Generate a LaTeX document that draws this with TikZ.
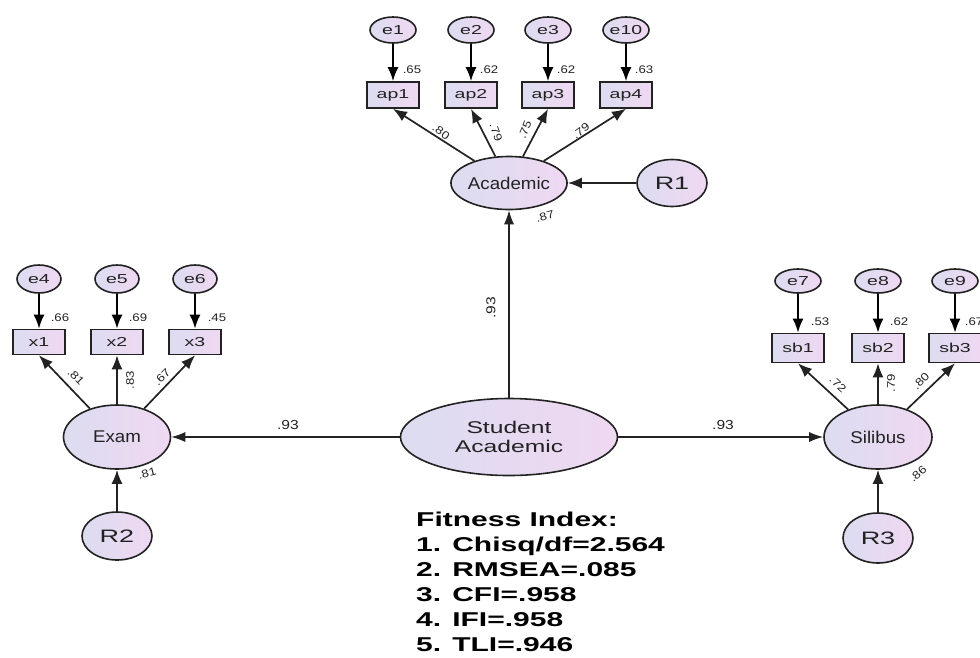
\documentclass[tikz,border=0pt]{standalone}
\usepackage{fontspec}
\setmainfont{Liberation Sans}
\newfontfamily\smallfont[FakeStretch=1.5]{Liberation Sans}
\newfontfamily\latfont[FakeStretch=1.1]{Liberation Sans}
\newfontfamily\stufont[FakeStretch=1.45]{Liberation Sans}
\newfontfamily\estfont[FakeStretch=1.2]{Liberation Sans}
\newfontfamily\fitfont[FakeStretch=1.5]{Liberation Sans}
\usetikzlibrary{shapes.geometric,arrows.meta}
\definecolor{fillA}{HTML}{DCDCF0}
\definecolor{fillB}{HTML}{EFD8F2}
\definecolor{inkc}{HTML}{222222}
\begin{document}
\begin{tikzpicture}[x=1pt,y=-1pt,
  latent/.style={ellipse, draw=inkc, line width=1.6pt, left color=fillA, right color=fillB, inner sep=0pt, text=inkc},
  errv/.style={latent, minimum width=46pt, minimum height=26pt, font=\smallfont\fontsize{13}{15}\selectfont},
  resid/.style={latent, minimum width=70pt, minimum height=48pt, font=\smallfont\fontsize{18}{20}\selectfont},
  factor/.style={latent, minimum width=107pt, minimum height=64pt, font=\latfont\fontsize{17}{19}\selectfont},
  obs/.style={rectangle, draw=inkc, line width=1.6pt, left color=fillA, right color=fillB, minimum width=52pt, minimum height=26pt, inner sep=0pt, text=inkc, font=\smallfont\fontsize{13}{15}\selectfont},
  errarrow/.style={-{Latex[length=14pt,width=11pt]}, line width=2pt, draw=black},
  loadarrow/.style={-{Latex[length=14pt,width=11pt]}, line width=1.7pt, draw=inkc},
  patharrow/.style={-{Latex[length=14pt,width=10pt]}, line width=1.3pt, draw=inkc},
  est/.style={font=\estfont\fontsize{11}{13}\selectfont, text=inkc, inner sep=0pt},
  bigest/.style={font=\estfont\fontsize{13}{15}\selectfont, text=inkc, inner sep=0pt},
]
\useasboundingbox (0,0) rectangle (980,657);

% ---------- top block ----------
\node[errv] (e1) at (393,30) {e1};
\node[errv] (e2) at (471,30) {e2};
\node[errv] (e3) at (548,30) {e3};
\node[errv] (e10) at (626,30) {e10};
\node[obs] (ap1) at (393,95) {ap1};
\node[obs] (ap2) at (471,95) {ap2};
\node[obs] (ap3) at (548,95) {ap3};
\node[obs] (ap4) at (626,95) {ap4};
\node[factor, minimum height=53pt] (acad) at (509,183) {Academic};
\node[resid, minimum height=47pt] (R1) at (672,183) {R1};

% ---------- centre ----------
\node[latent, minimum width=217pt, minimum height=77pt, align=center,
      font=\stufont\fontsize{17}{19}\selectfont] (stu) at (509,437) {Student\\Academic};

% ---------- left block ----------
\node[errv, minimum width=44pt, minimum height=28pt] (e4) at (39,279) {e4};
\node[errv, minimum width=44pt, minimum height=28pt] (e5) at (117,279) {e5};
\node[errv, minimum width=44pt, minimum height=28pt] (e6) at (195,279) {e6};
\node[obs, minimum height=25pt] (x1) at (39,342) {x1};
\node[obs, minimum height=25pt] (x2) at (117,342) {x2};
\node[obs, minimum height=25pt] (x3) at (195,342) {x3};
\node[factor] (exam) at (117,437) {Exam};
\node[resid] (R2) at (117,536) {R2};

% ---------- right block ----------
\node[errv, minimum height=24pt] (e7) at (798,281) {e7};
\node[errv, minimum height=24pt] (e8) at (878,281) {e8};
\node[errv, minimum height=24pt] (e9) at (955,281) {e9};
\node[obs, minimum height=29pt] (sb1) at (798,348) {sb1};
\node[obs, minimum height=29pt] (sb2) at (878,348) {sb2};
\node[obs, minimum height=29pt] (sb3) at (955,348) {sb3};
\node[factor, minimum width=108pt] (sil) at (878,437) {Silibus};
\node[resid, minimum height=50pt] (R3) at (878,538) {R3};

% ---------- connectors ----------
\draw[errarrow] (e1) -- (ap1);
\draw[errarrow] (e2) -- (ap2);
\draw[errarrow] (e3) -- (ap3);
\draw[errarrow] (e10) -- (ap4);
\draw[errarrow] (e4) -- (x1);
\draw[errarrow] (e5) -- (x2);
\draw[errarrow] (e6) -- (x3);
\draw[errarrow] (e7) -- (sb1);
\draw[errarrow] (e8) -- (sb2);
\draw[errarrow] (e9) -- (sb3);

\draw[loadarrow] (acad) -- (ap1.south);
\draw[loadarrow] (acad) -- (ap2.south);
\draw[loadarrow] (acad) -- (ap3.south);
\draw[loadarrow] (acad) -- (ap4.south);
\draw[loadarrow] (exam) -- (x1.south);
\draw[loadarrow] (exam) -- (x2.south);
\draw[loadarrow] (exam) -- (x3.south);
\draw[loadarrow] (sil) -- (sb1.south);
\draw[loadarrow] (sil) -- (sb2.south);
\draw[loadarrow] (sil) -- (sb3.south);

\draw[loadarrow] (R1) -- (acad);
\draw[loadarrow] (R2) -- (exam);
\draw[loadarrow] (R3) -- (sil);

\draw[patharrow] (stu) -- (acad);
\draw[patharrow] (stu) -- (exam);
\draw[patharrow] (stu) -- (sil);

% ---------- estimates ----------
\node[est] (v1) at (412,70) {.65};
\node[est] (v2) at (489,70) {.62};
\node[est] (v3) at (566,70) {.62};
\node[est] (v4) at (644,70) {.63};
\node[est] (v5) at (60,318) {.66};
\node[est] (v6) at (138,318) {.69};
\node[est] (v7) at (217,318) {.45};
\node[est] (v8) at (820,322) {.53};
\node[est] (v9) at (899,322) {.62};
\node[est] (v10) at (974,322) {.67};

\node[est, rotate=-35] (w1) at (441,132) {.80};
\node[est, rotate=-70] (w2) at (496,132) {.79};
\node[est, rotate=68] (w3) at (525,130) {.75};
\node[est, rotate=36] (w4) at (581,131) {.79};
\node[est, rotate=-46] (w5) at (76,377) {.81};
\node[est, rotate=90] (w6) at (130,380) {.83};
\node[est, rotate=46] (w7) at (162,377) {.67};
\node[est, rotate=-43] (w8) at (838,384) {.72};
\node[est, rotate=90] (w9) at (891,383) {.79};
\node[est, rotate=44] (w10) at (921,381) {.80};

\node[est, rotate=15] (r1) at (545,216) {.87};
\node[est, rotate=15] (r2) at (147,473) {.81};
\node[est, rotate=40] (r3) at (918,474) {.86};

\node[bigest] (p1) at (288,425) {.93};
\node[bigest] (p2) at (723,425) {.93};
\node[bigest, rotate=90] (p3) at (491,308) {.93};

% ---------- fitness text ----------
\node[anchor=north west, align=left, inner sep=0pt, text=black,
      font=\fitfont\bfseries\fontsize{20}{25}\selectfont] (fit) at (416,512)
  {Fitness Index:\\1. Chisq/df=2.564\\2. RMSEA=.085\\3. CFI=.958\\4. IFI=.958\\5. TLI=.946};
\end{tikzpicture}
\end{document}
